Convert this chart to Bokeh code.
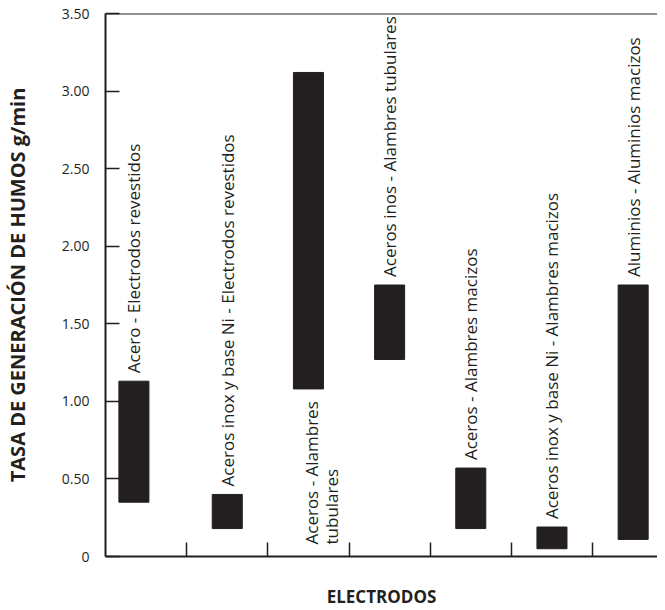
import math
from bokeh.plotting import figure
from bokeh.models import Range1d, FixedTicker, Span, ColumnDataSource
from bokeh.core.properties import value
from bokeh.embed import file_html
from bokeh.resources import INLINE

# ---- data ----
categories = [
    "Acero - Electrodos revestidos",
    "Aceros inox y base Ni - Electrodos revestidos",
    "Aceros - Alambres\ntubulares",
    "Aceros inos - Alambres tubulares",
    "Aceros - Alambres macizos",
    "Aceros inox y base Ni - Alambres macizos",
    "Aluminios - Aluminios macizos",
]
low_values = [0.35, 0.18, 1.08, 1.27, 0.18, 0.05, 0.11]
high_values = [1.13, 0.40, 3.12, 1.75, 0.57, 0.19, 1.75]
y_ticks = [0, 0.5, 1.0, 1.5, 2.0, 2.5, 3.0, 3.5]
y_tick_labels = ["0", "0.50", "1.00", "1.50", "2.00", "2.50", "3.00", "3.50"]
y_title = "TASA DE GENERACIÓN DE HUMOS g/min"
x_title = "ELECTRODOS"

INK = "#231f20"
FONT = "Open Sans"

n = len(categories)
# layout: bar placement inside each category slot (first one sits left of centre)
slot_shift = [-0.15] + [0.0] * (n - 1)
centers = [i + 0.5 + s for i, s in enumerate(slot_shift)]

p = figure(width=657, height=610, output_backend="svg", toolbar_location=None,
           x_range=Range1d(0, 6.8), y_range=Range1d(0, 3.5),
           min_border_left=104, min_border_right=0, min_border_top=13,
           min_border_bottom=52)
p.outline_line_color = None
p.grid.visible = False
p.background_fill_color = "white"
p.border_fill_color = "white"

# bars
p.vbar(x=centers, bottom=low_values, top=high_values, width=0.37,
       fill_color=INK, line_color=INK)

# labels above bars (the third sits at the base of its column)
above = [i for i in range(n) if i != 2]
src = ColumnDataSource(dict(
    x=[centers[i] for i in above],
    y=[high_values[i] for i in above],
    t=[categories[i] for i in above],
))
p.text(x="x", y="y", text="t", source=src, angle=math.pi / 2,
       text_align="left", text_baseline="middle", y_offset=-8,
       text_font=value(FONT), text_font_size="17px", text_color=INK)
p.text(x=[centers[2]], y=[0], text=[categories[2]], angle=math.pi / 2,
       text_align="left", text_baseline="middle", y_offset=-12, x_offset=13,
       text_font=value(FONT), text_font_size="17px", text_color=INK,
       text_line_height=0.9)

# top border line
p.add_layout(Span(location=3.5, dimension="width", line_color=INK, line_width=2))

# y axis
ya = p.yaxis[0]
ya.ticker = FixedTicker(ticks=y_ticks)
ya.major_label_overrides = {t: l for t, l in zip(y_ticks, y_tick_labels)}
ya.major_tick_in = 14
ya.major_tick_out = 0
ya.minor_tick_line_color = None
ya.axis_line_color = INK
ya.axis_line_width = 2
ya.major_tick_line_color = INK
ya.major_tick_line_width = 1.5
ya.major_label_text_font = FONT
ya.major_label_text_font_size = "14px"
ya.major_label_text_color = INK
ya.major_label_standoff = 16
ya.axis_label = y_title
ya.axis_label_text_font = FONT
ya.axis_label_text_font_style = "bold"
ya.axis_label_text_font_size = "20px"
ya.axis_label_text_color = INK
ya.axis_label_standoff = 28

# x axis
xa = p.xaxis[0]
xa.ticker = FixedTicker(ticks=list(range(1, n)))
xa.major_label_text_font_size = "0px"
xa.major_tick_in = 14
xa.major_tick_out = 0
xa.minor_tick_line_color = None
xa.axis_line_color = INK
xa.axis_line_width = 2
xa.major_tick_line_color = INK
xa.major_tick_line_width = 1.5
xa.axis_label = x_title
xa.axis_label_text_font = FONT
xa.axis_label_text_font_style = "bold"
xa.axis_label_text_font_size = "17px"
xa.axis_label_text_color = INK
xa.axis_label_standoff = 28

open("out.html", "w").write(file_html(p, INLINE))
